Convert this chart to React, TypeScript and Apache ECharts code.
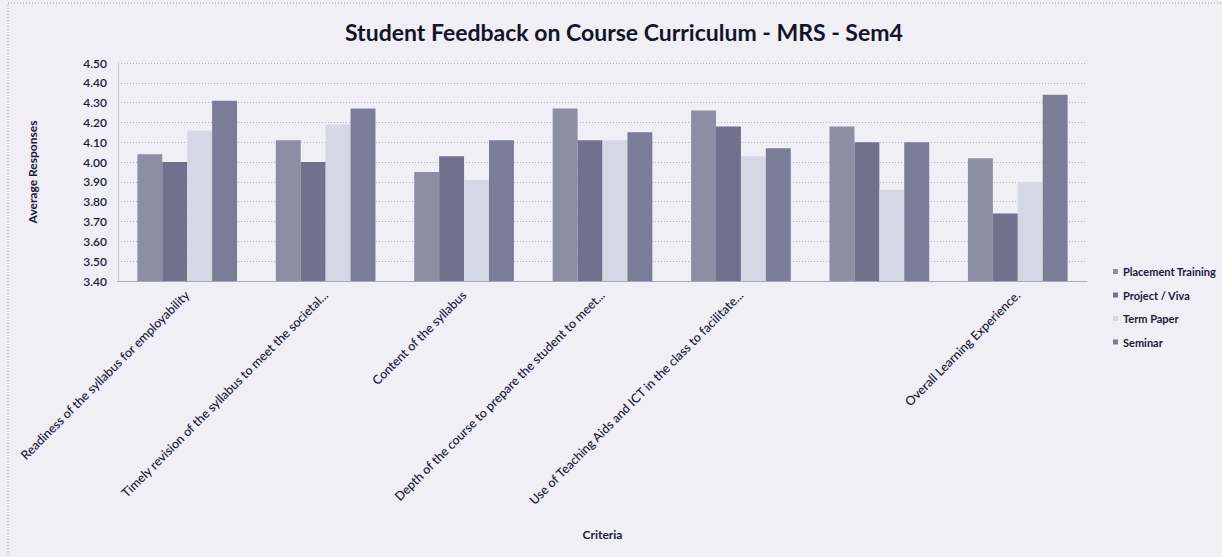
import React, { useEffect, useRef } from "react";
import * as echarts from "echarts";

const categories = [
  "Readiness of the syllabus for employability",
  "Timely revision of the syllabus to meet the societal...",
  "Content of the syllabus",
  "Depth of the course to prepare the student to meet...",
  "Use of Teaching Aids and ICT in the class to facilitate...",
  "",
  "Overall Learning Experience.",
];
const seriesNames = ["Placement Training", "Project / Viva", "Term Paper", "Seminar"];
const placementTraining = [4.04, 4.11, 3.95, 4.27, 4.26, 4.18, 4.02];
const projectViva = [4.0, 4.0, 4.03, 4.11, 4.18, 4.1, 3.74];
const termPaper = [4.16, 4.19, 3.91, 4.11, 4.03, 3.86, 3.9];
const seminar = [4.31, 4.27, 4.11, 4.15, 4.07, 4.1, 4.34];
const colors = ["#8d8da4", "#71718e", "#d6d7e4", "#7b7c98"];

const FONT = "Lato, 'Open Sans', sans-serif";

export default function App() {
  const ref = useRef<HTMLDivElement>(null);
  useEffect(() => {
    const chart = echarts.init(ref.current!, undefined, { renderer: "svg" });
    const data = [placementTraining, projectViva, termPaper, seminar];
    chart.setOption({
      animation: false,
      backgroundColor: "#efeff5",
      textStyle: { fontFamily: FONT },
      title: {
        text: "Student Feedback on Course Curriculum - MRS - Sem4",
        left: 340,
        top: 15,
        textStyle: { fontSize: 23, fontWeight: "bold", color: "#141428", fontFamily: FONT },
      },
      legend: {
        orient: "vertical",
        left: 1108,
        top: 261,
        itemWidth: 5,
        itemHeight: 5,
        itemGap: 12.5,
        icon: "rect",
        textStyle: { fontSize: 11, color: "#1a1a3a", fontWeight: "bold", fontFamily: FONT },
        data: seriesNames,
      },
      graphic: [
        {
          type: "rect",
          shape: { x: 8, y: 3, width: 1222, height: 560 },
          style: { fill: "none", stroke: "#9a9aac", lineWidth: 1, lineDash: [1, 2] },
          silent: true,
        },
      ],
      grid: { left: 118, right: 135, top: 63, bottom: 276 },
      xAxis: {
        type: "category",
        data: categories,
        name: "Criteria",
        nameLocation: "middle",
        nameGap: 247,
        nameTextStyle: { fontSize: 12, fontWeight: "bold", color: "#1a1a3a" },
        axisLine: { lineStyle: { color: "#a8a8b8" } },
        axisTick: { show: false },
        axisLabel: {
          rotate: 45,
          interval: 0,
          fontSize: 12.5,
          fontWeight: 500,
          color: "#15153a",
          margin: 12,
        },
      },
      yAxis: {
        type: "value",
        min: 3.4,
        max: 4.5,
        interval: 0.1,
        name: "Average Responses",
        nameLocation: "middle",
        nameGap: 80,
        nameTextStyle: { fontSize: 12, fontWeight: "bold", color: "#1a1a3a" },
        axisLine: { show: true, lineStyle: { color: "#c8c8d4" } },
        axisTick: { show: false },
        axisLabel: {
          fontSize: 12,
          fontWeight: 600,
          color: "#1a1a40",
          margin: 11,
          formatter: (v: number) => v.toFixed(2),
        },
        splitLine: { lineStyle: { color: "#b0b0c2", type: [1, 2] } },
      },
      series: seriesNames.map((name, i) => ({
        name,
        type: "bar",
        data: data[i],
        barGap: "0%",
        barCategoryGap: "28%",
        itemStyle: { color: colors[i] },
      })),
    });
    return () => chart.dispose();
  }, []);
  return (
    <div
      ref={ref}
      style={{ position: "absolute", left: 0, top: 0, width: 1222, height: 557 }}
    />
  );
}
